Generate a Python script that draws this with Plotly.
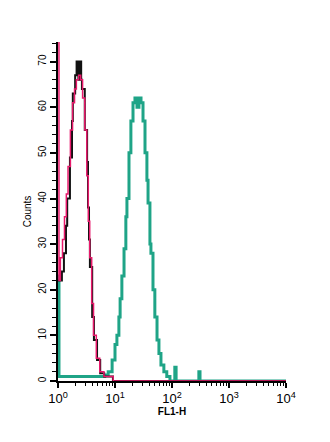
import plotly.graph_objects as go

# FL1-H channel positions and counts
black_x = [1.0, 1.08, 1.17, 1.27, 1.38, 1.45, 1.62, 1.76, 1.82, 2.0, 2.12, 2.28, 2.42, 2.55, 2.63, 2.95, 3.24, 3.36, 3.5, 3.63, 3.98, 4.27, 4.84, 5.5, 6.46, 8.1, 9.2, 10000]
black_y = [22, 22, 24, 28, 34, 40, 49, 57, 63, 67, 70, 66, 70, 66, 64, 55, 48, 38, 31, 25, 14, 9, 4.6, 1.7, 1, 1, 0, 0]

pink_x = [1.0, 1.04, 1.1, 1.2, 1.3, 1.4, 1.5, 1.65, 1.8, 1.95, 2.1, 2.3, 2.5, 2.7, 2.95, 3.2, 3.4, 3.6, 3.9, 4.2, 4.7, 5.4, 6.4, 7.5, 8.4, 9.3, 10000]
pink_y = [80, 22, 27, 31, 36, 41, 47, 55, 61, 64, 66, 67, 66, 62, 55, 45, 35, 27, 17, 10, 5, 2, 1, 1, 1, 0, 0]

green_x = [1.0, 1.04, 1.5, 2.0, 2.6, 3.2, 4.0, 4.8, 5.6, 6.6, 7.6, 8.9, 10.0, 10.8, 11.7, 12.3, 13.2, 14.4, 15.5, 16.2, 17.6, 19.0, 20.7, 22.4, 24.3, 26.3, 28.6, 31.0, 33.6, 36.3, 38.0, 41.0, 42.7, 46.4, 50.0, 54.6, 59.0, 64.0, 72.0, 81.0, 92.0, 112.0, 118.0, 296.0, 310.0, 10000]
green_y = [23, 1, 1, 1, 1, 1, 1, 1, 1, 1.3, 2, 4.6, 8, 10, 14, 18, 23, 29, 36, 40, 50, 57, 61, 62, 60, 62, 61, 57, 50, 44, 39, 30, 28, 20, 14, 9, 6, 3.5, 2, 1, 0, 3, 0, 2, 0, 0]

x_tickvals = [1, 10, 100, 1000, 10000]
x_ticktext = ["10<sup>0</sup>", "10<sup>1</sup>", "10<sup>2</sup>", "10<sup>3</sup>", "10<sup>4</sup>"]
x_minor = [m * d for d in [1, 10, 100, 1000] for m in range(2, 10)]
y_tickvals = [0, 10, 20, 30, 40, 50, 60, 70]

fig = go.Figure()
fig.add_trace(go.Scatter(x=green_x, y=green_y, mode="lines", line=dict(color="#1fa487", width=3, shape="hv")))
fig.add_trace(go.Scatter(x=black_x, y=black_y, mode="lines", line=dict(color="#111111", width=2, shape="hv")))
fig.add_trace(go.Scatter(x=pink_x, y=pink_y, mode="lines", line=dict(color="#e8196b", width=1.5, shape="hv")))

fig.update_layout(
    width=330, height=442,
    margin=dict(l=58, r=44, t=42, b=61),
    plot_bgcolor="white", paper_bgcolor="white",
    showlegend=False,
    font=dict(family="Liberation Sans, Arial, sans-serif", size=10, color="black"),
    xaxis=dict(
        type="log", range=[0, 4], showgrid=False, zeroline=False,
        showline=True, linecolor="black", linewidth=1.5, layer="below traces",
        ticks="outside", ticklen=5, tickcolor="black", tickwidth=1.5,
        tickmode="array", tickvals=x_tickvals, ticktext=x_ticktext,
        tickfont=dict(size=13),
        minor=dict(tickmode="array", tickvals=x_minor, ticks="outside", ticklen=3, tickcolor="black", tickwidth=1),
        title=dict(text="<b>FL1-H</b>", font=dict(size=10), standoff=0),
    ),
    yaxis=dict(
        range=[0, 74.3], showgrid=False, zeroline=False,
        showline=True, linecolor="black", linewidth=1.5, layer="below traces",
        ticks="outside", ticklen=6, tickcolor="black", tickwidth=1.5,
        tickmode="array", tickvals=y_tickvals, tickangle=-90,
        tickfont=dict(size=10),
        minor=dict(dtick=2, ticks="outside", ticklen=4, tickcolor="black", tickwidth=1),
        title=dict(text="Counts", font=dict(size=10), standoff=4),
    ),
)

fig.write_html("out.html")
